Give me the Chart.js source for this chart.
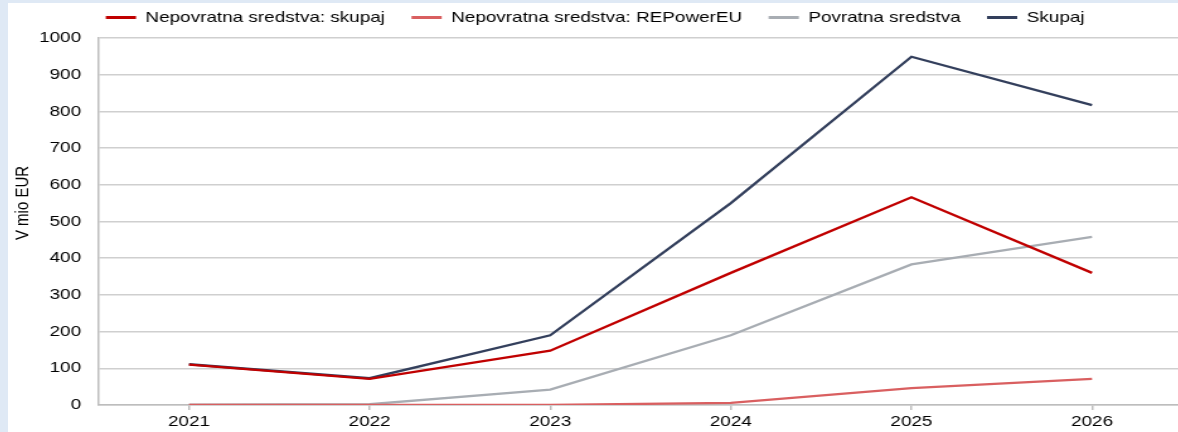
<!DOCTYPE html>
<html>
<head>
<meta charset="utf-8">
<script src="https://cdn.jsdelivr.net/npm/chart.js@4/dist/chart.umd.min.js"></script>
<style>
  html, body { margin: 0; padding: 0; width: 1178px; height: 432px; overflow: hidden; background: #dfe9f5; }
  #panel { position: absolute; left: 8px; top: 3px; width: 1170px; height: 429px; background: #ffffff; }
  #wrap { position: absolute; left: 8px; top: -11px; width: 932px; height: 446px; transform: scaleX(1.26); transform-origin: 0 0; }
</style>
</head>
<body>
<div id="panel"></div>
<div id="wrap"><canvas id="c" width="932" height="446"></canvas></div>
<script>
const categories = ['2021', '2022', '2023', '2024', '2025', '2026'];
const nepovratnaSkupaj = [110, 71, 148, 360, 566, 360];
const nepovratnaREPowerEU = [0, 0, 0, 6, 46, 71];
const povratnaSredstva = [1, 2, 42, 190, 383, 458];
const skupaj = [111, 73, 190, 550, 949, 817];
const seriesNames = ['Nepovratna sredstva: skupaj', 'Nepovratna sredstva: REPowerEU', 'Povratna sredstva', 'Skupaj'];
const yAxisTitle = 'V mio EUR';

const FONT = '"Liberation Sans", Arial, sans-serif';

const yTitlePlugin = {
  id: 'yTitle',
  afterDraw(chart) {
    const ctx = chart.ctx;
    ctx.save();
    ctx.translate(11.5, 214);
    ctx.rotate(-Math.PI / 2);
    ctx.font = '15px ' + FONT;
    ctx.fillStyle = '#000000';
    ctx.textAlign = 'center';
    ctx.textBaseline = 'middle';
    ctx.fillText(yAxisTitle, 0, 0);
    ctx.restore();
  }
};

const legendHeightPlugin = {
  id: 'legendHeight',
  beforeInit(chart) {
    const fit = chart.legend.fit;
    chart.legend.fit = function () {
      fit.bind(chart.legend)();
      this.height = 49;
    };
  }
};

function ds(label, data, color) {
  return {
    label, data,
    borderColor: color, backgroundColor: color,
    borderWidth: 2.3, pointRadius: 0, pointHoverRadius: 0,
    tension: 0, fill: false
  };
}

new Chart(document.getElementById('c'), {
  type: 'line',
  data: {
    labels: categories,
    datasets: [
      ds(seriesNames[0], nepovratnaSkupaj, '#c00000'),
      ds(seriesNames[1], nepovratnaREPowerEU, '#d95f60'),
      ds(seriesNames[2], povratnaSredstva, '#a8adb3'),
      ds(seriesNames[3], skupaj, '#333f5c')
    ]
  },
  options: {
    responsive: false,
    animation: false,
    events: [],
    layout: { padding: { left: 0, right: 0, top: 0, bottom: 1 } },
    plugins: {
      tooltip: { enabled: false },
      legend: {
        display: true,
        position: 'top',
        align: 'center',
        labels: {
          boxWidth: 24,
          boxHeight: 3,
          padding: 21,
          color: '#000000',
          font: { family: FONT, size: 15 },
          generateLabels(chart) {
            const items = Chart.defaults.plugins.legend.labels.generateLabels(chart);
            items.forEach(i => { i.lineWidth = 0; i.fillStyle = i.strokeStyle; });
            return items;
          }
        }
      }
    },
    scales: {
      x: {
        offset: true,
        grid: { display: true, drawOnChartArea: false, drawTicks: true, tickLength: 5, offset: false, color: '#bdbdbd', lineWidth: 1.5 },
        border: { display: true, color: '#bdbdbd', width: 1.5 },
        ticks: { color: '#000000', font: { family: FONT, size: 15 }, padding: 3, maxRotation: 0 }
      },
      y: {
        min: 0, max: 1000,
        afterFit(scale) { scale.width = 72; },
        grid: { display: true, drawTicks: false, color: '#cfcfcf', lineWidth: 1.5 },
        border: { display: true, color: '#bdbdbd', width: 1.5 },
        ticks: { stepSize: 100, color: '#000000', font: { family: FONT, size: 15 }, padding: 14, callback: v => String(v) }
      }
    }
  },
  plugins: [legendHeightPlugin, yTitlePlugin]
});
</script>
</body>
</html>
